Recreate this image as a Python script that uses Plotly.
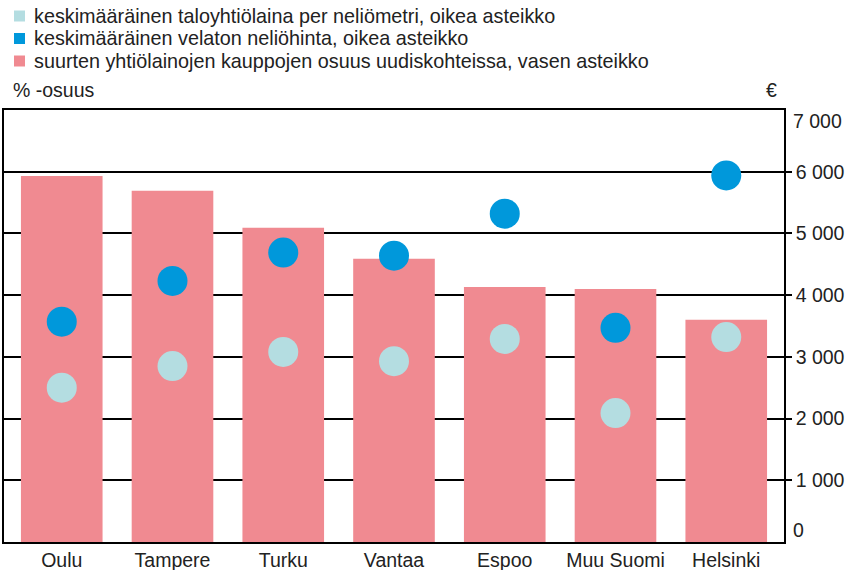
import plotly.graph_objects as go

categories = ["Oulu", "Tampere", "Turku", "Vantaa", "Espoo", "Muu Suomi", "Helsinki"]
share_pct = [59.3, 56.9, 50.9, 45.9, 41.3, 41.0, 36.0]          # left axis, %
price_eur = [3570, 4230, 4690, 4640, 5320, 3470, 5940]          # right axis, €/m2
loan_eur = [2500, 2850, 3080, 2930, 3290, 2090, 3320]           # right axis, €/m2

legend_labels = [
    "keskimääräinen taloyhtiölaina per neliömetri, oikea asteikko",
    "keskimääräinen velaton neliöhinta, oikea asteikko",
    "suurten yhtiölainojen kauppojen osuus uudiskohteissa, vasen asteikko",
]
right_ticks = [1000, 2000, 3000, 4000, 5000, 6000]
right_ticktext = ["1 000", "2 000", "3 000", "4 000", "5 000", "6 000"]

C_PINK = "#f08a91"
C_BLUE = "#0098db"
C_LIGHT = "#b4dde1"
FONT = "Liberation Sans, Arial, sans-serif"
TXT = "#222222"
FS = 19.5
FS_LEG = 19.8

W, H = 846, 570
ML, MR, MT, MB = 4, 62, 110, 28
PW, PH = W - ML - MR, H - MT - MB

def px_x(x):
    return (x - ML) / PW

def px_y(y):
    return (H - MB - y) / PH

fig = go.Figure()
fig.add_trace(go.Bar(x=categories, y=share_pct, marker=dict(color=C_PINK, line=dict(width=0)),
                     width=0.737, yaxis="y", showlegend=False))
fig.add_trace(go.Scatter(x=categories, y=loan_eur, mode="markers", yaxis="y2",
                         marker=dict(color=C_LIGHT, size=30, line=dict(width=0)), showlegend=False))
fig.add_trace(go.Scatter(x=categories, y=price_eur, mode="markers", yaxis="y2",
                         marker=dict(color=C_BLUE, size=30, line=dict(width=0)), showlegend=False))

annotations = []
shapes = []
leg_colors = [C_LIGHT, C_BLUE, C_PINK]
leg_y = [16, 38.5, 61]
for lab, col, yy in zip(legend_labels, leg_colors, leg_y):
    shapes.append(dict(type="rect", xref="paper", yref="paper",
                       x0=px_x(14), x1=px_x(25), y0=px_y(yy + 5.5), y1=px_y(yy - 5.5),
                       fillcolor=col, line=dict(width=0)))
    annotations.append(dict(text=lab, xref="paper", yref="paper", x=px_x(32), y=px_y(yy),
                            xanchor="left", yanchor="middle", showarrow=False,
                            font=dict(size=FS_LEG, color=TXT, family=FONT)))
annotations.append(dict(text="% -osuus", xref="paper", yref="paper", x=px_x(11), y=px_y(90),
                        xanchor="left", yanchor="middle", showarrow=False,
                        font=dict(size=FS, color=TXT, family=FONT)))
annotations.append(dict(text="€", xref="paper", yref="paper", x=px_x(771), y=px_y(90),
                        xanchor="center", yanchor="middle", showarrow=False,
                        font=dict(size=FS, color=TXT, family=FONT)))
annotations.append(dict(text="7 000", xref="paper", yref="paper", x=px_x(791), y=px_y(121),
                        xanchor="left", yanchor="middle", showarrow=False,
                        font=dict(size=FS, color=TXT, family=FONT)))
annotations.append(dict(text="0", xref="paper", yref="paper", x=px_x(791), y=px_y(530),
                        xanchor="left", yanchor="middle", showarrow=False,
                        font=dict(size=FS, color=TXT, family=FONT)))

fig.update_layout(
    width=W, height=H,
    margin=dict(l=ML, r=MR, t=MT, b=MB, autoexpand=False),
    paper_bgcolor="white", plot_bgcolor="white",
    font=dict(family=FONT, size=FS, color=TXT),
    showlegend=False,
    xaxis=dict(showline=True, linecolor="black", linewidth=2, mirror=True,
               ticks="", showgrid=False, tickfont=dict(size=FS), automargin=False),
    yaxis=dict(range=[0, 70], showticklabels=False, showgrid=False, showline=True,
               linecolor="black", linewidth=1.5, ticks="", zeroline=False, automargin=False),
    yaxis2=dict(range=[0, 7000], overlaying="y", side="right", tickvals=right_ticks,
                ticktext=right_ticktext, showgrid=True, gridcolor="black", gridwidth=1.5,
                showline=True, linecolor="black", linewidth=1.5, ticks="outside",
                ticklen=6, tickwidth=1.5, tickcolor="black", zeroline=False, automargin=False,
                tickfont=dict(size=FS, color=TXT)),
    annotations=annotations, shapes=shapes,
)
fig.write_html("out.html", config={"displayModeBar": False},
               post_script="document.body.style.margin='0';document.body.style.overflow='hidden';")
